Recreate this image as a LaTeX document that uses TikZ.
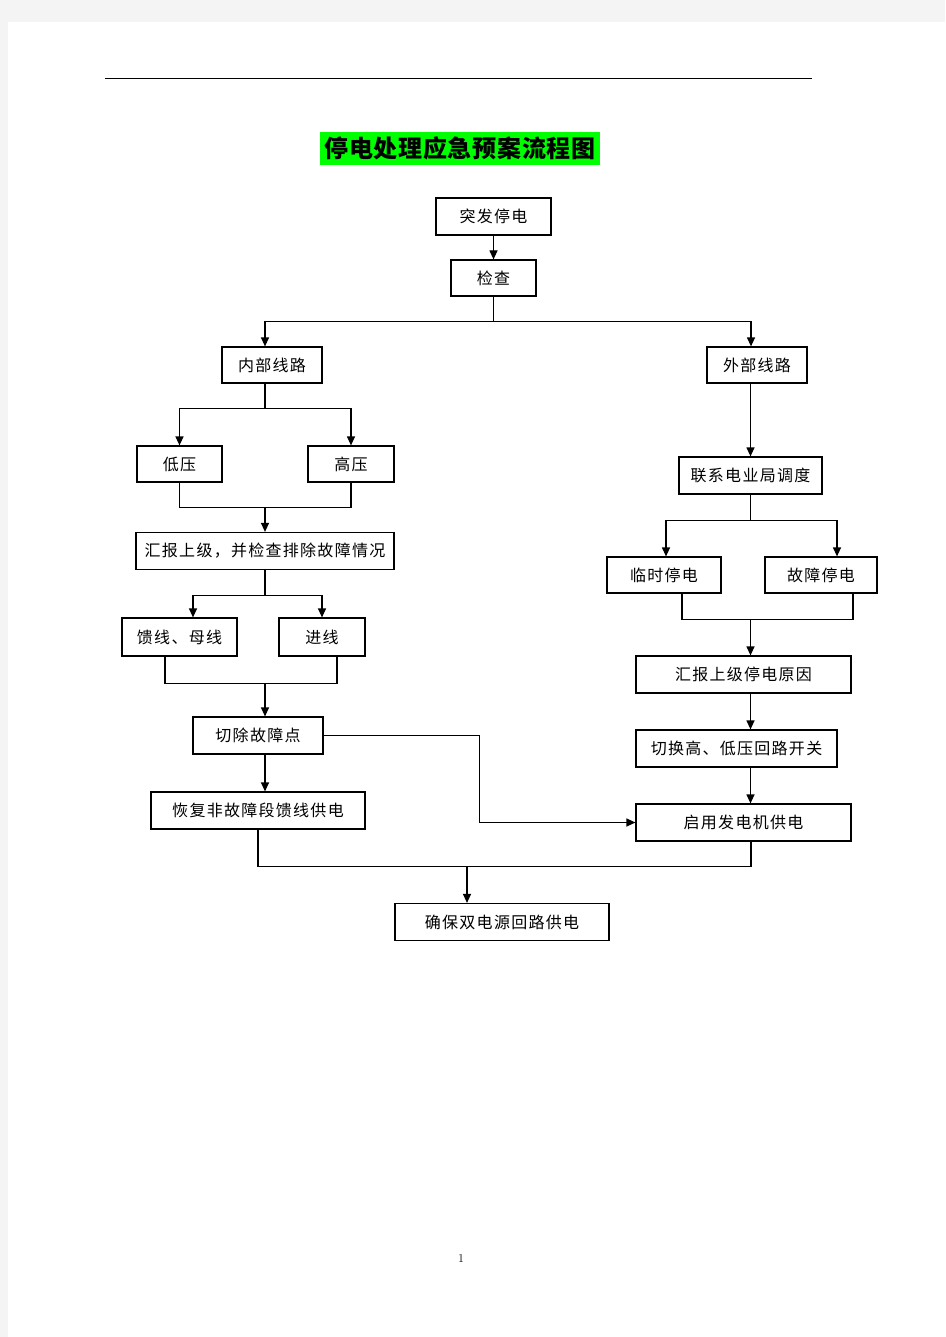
\documentclass[tikz,border=0pt]{standalone}
\usepackage{fontspec}
\newfontfamily\cjk{Noto Sans CJK SC}[LetterSpace=8]
\newfontfamily\cjktitle{Noto Sans CJK SC}[LetterSpace=3]
\usetikzlibrary{arrows.meta}
\definecolor{pagegray}{RGB}{244,244,244}
\definecolor{titlegreen}{RGB}{0,255,0}
\tikzset{
  box/.style={draw, line width=1.2pt, inner sep=0pt, minimum height=37pt,
    font=\cjk\fontsize{16}{16}\selectfont},
  link/.style={line width=1.2pt},
  arr/.style={link, -{Triangle[length=9pt,width=8pt]}}
}

\begin{document}
\begin{tikzpicture}[x=1pt,y=-1pt]
    \fill[pagegray] (0,0) rectangle (945,1337);
    \fill[white] (8,22) rectangle (945,1337);
    \useasboundingbox (0,0) rectangle (945,1337);
    \draw[line width=1pt] (105,79) -- (812,79);
    \node[fill=titlegreen, minimum width=280pt, minimum height=33pt, inner sep=0pt,
      font=\cjktitle\bfseries\fontsize{24}{24}\selectfont] (title) at (460,148.5) {停电处理应急预案流程图};

    \node[box, minimum width=115pt] (outage) at (493.5,216.5) {突发停电};
    \node[box, minimum width=85pt, minimum height=36pt] (check) at (493.5,278) {检查};
    \node[box, minimum width=100pt, minimum height=36pt] (inner) at (272,365) {内部线路};
    \node[box, minimum width=100pt, minimum height=36pt] (outer) at (757,365) {外部线路};

    \node[box, minimum width=85pt, minimum height=36pt] (low) at (179.5,464) {低压};
    \node[box, minimum width=86pt, minimum height=36pt] (high) at (351,464) {高压};
    \node[box, minimum width=258pt] (report) at (265,551) {汇报上级，并检查排除故障情况};
    \node[box, minimum width=115pt, minimum height=38pt] (feeder) at (179.5,637) {馈线、母线};
    \node[box, minimum width=86pt, minimum height=38pt] (incoming) at (322,637) {进线};
    \node[box, minimum width=130pt] (isolate) at (258,735.5) {切除故障点};
    \node[box, minimum width=214pt] (restore) at (258,810.5) {恢复非故障段馈线供电};

    \node[box, minimum width=143pt] (contact) at (750.5,475.5) {联系电业局调度};
    \node[box, minimum width=114pt, minimum height=36pt] (temp) at (664,575) {临时停电};
    \node[box, minimum width=112pt, minimum height=36pt] (fault) at (821,575) {故障停电};
    \node[box, minimum width=215pt] (reason) at (743.5,674.5) {汇报上级停电原因};
    \node[box, minimum width=201pt] (switch) at (736.5,748.5) {切换高、低压回路开关};
    \node[box, minimum width=215pt] (generator) at (743.5,822.5) {启用发电机供电};

    \node[box, minimum width=214pt] (dual) at (502,922) {确保双电源回路供电};

    \draw[arr] (outage) -- (check);
    \draw[link] (check.south) -- ++(0,25) coordinate (c1);
    \draw[arr] (c1) -| ([xshift=-7pt]inner.north);
    \draw[arr] (c1) -| ([xshift=-6pt]outer.north);

    \draw[link] ([xshift=-7pt]inner.south) -- ++(0,25) coordinate (n1);
    \draw[arr] (n1) -| (low.north);
    \draw[arr] (n1) -| (high.north);
    \draw[link] (low.south) -- ++(0,25) coordinate (v1) -| (high.south);
    \draw[arr] (v1 -| report.north) -- (report.north);
    \draw[link] (report.south) -- ++(0,25) coordinate (r1);
    \draw[arr] (r1) -| ([xshift=13.5pt]feeder.north);
    \draw[arr] (r1) -| (incoming.north);
    \draw[link] ([xshift=-14.5pt]feeder.south) -- ++(0,27) coordinate (f1) -| ([xshift=15pt]incoming.south);
    \draw[arr] (f1 -| report.north) -- ([xshift=7pt]isolate.north);
    \draw[arr] ([xshift=7pt]isolate.south) -- ([xshift=7pt]restore.north);
    \draw[arr] (isolate.east) -- ++(156,0) |- (generator.west);

    \draw[arr] (contact.north |- outer.south) -- (contact.north);
    \draw[link] (contact.south) -- ++(0,26) coordinate (l1);
    \draw[arr] (l1) -| ([xshift=2pt]temp.north);
    \draw[arr] (l1) -| ([xshift=16pt]fault.north);
    \draw[link] ([xshift=18pt]temp.south) -- ++(0,26) coordinate (t1) -| ([xshift=32pt]fault.south);
    \draw[arr] (t1 -| contact.south) -- (reason.north -| contact.south);
    \draw[arr] (reason.south -| contact.south) -- (switch.north -| contact.south);
    \draw[arr] (switch.south -| contact.south) -- (generator.north -| contact.south);

    \path ([xshift=-35pt]dual.north) coordinate (d1);
    \draw[link] (restore.south) -- ++(0,37) coordinate (h1) -| ([xshift=7.5pt]generator.south);
    \draw[arr] (h1 -| d1) -- (d1);

    \node[font=\fontsize{12}{12}\selectfont] (pagenum) at (461,1258) {1};
\end{tikzpicture}
\end{document}
